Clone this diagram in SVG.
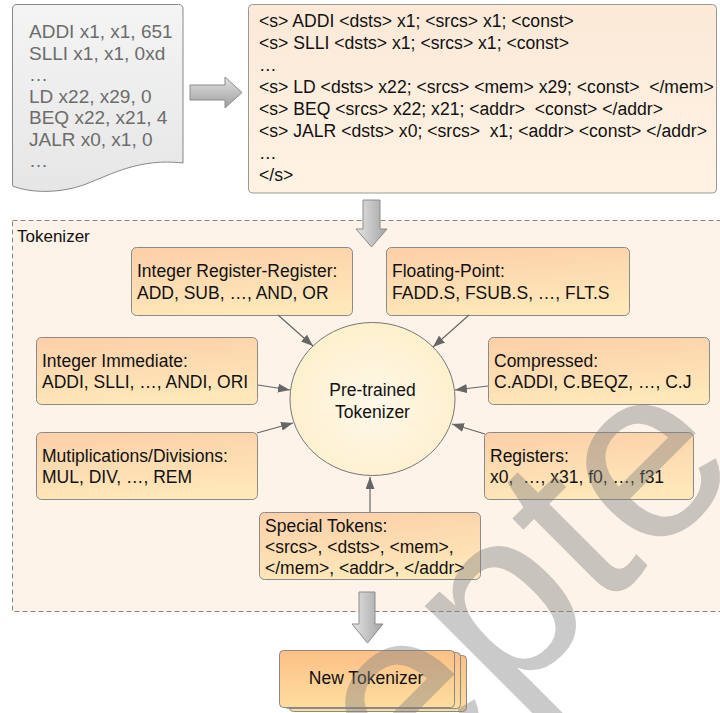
<svg xmlns="http://www.w3.org/2000/svg" width="720" height="713" viewBox="0 0 720 713">
<defs>
<linearGradient id="gNode" x1="0" y1="0" x2="0.25" y2="1">
<stop offset="0" stop-color="#fccfa8"/>
<stop offset="1" stop-color="#fee7b9"/>
</linearGradient>
<linearGradient id="gNew" x1="0" y1="0" x2="0" y2="1">
<stop offset="0" stop-color="#fdc086"/>
<stop offset="1" stop-color="#fedd9f"/>
</linearGradient>
<linearGradient id="gTok" x1="0" y1="0" x2="0" y2="1">
<stop offset="0" stop-color="#fce9d8"/>
<stop offset="1" stop-color="#fef3e3"/>
</linearGradient>
<linearGradient id="gDoc" x1="0" y1="0" x2="0" y2="1">
<stop offset="0" stop-color="#f4f4f4"/>
<stop offset="1" stop-color="#e6e6e6"/>
</linearGradient>
<linearGradient id="gArrH" x1="0" y1="0" x2="0" y2="1">
<stop offset="0" stop-color="#e2e2e2"/>
<stop offset="1" stop-color="#9e9e9e"/>
</linearGradient>
<linearGradient id="gArrV" x1="0" y1="0" x2="1" y2="0">
<stop offset="0" stop-color="#e4e4e4"/>
<stop offset="1" stop-color="#a4a4a4"/>
</linearGradient>
<radialGradient id="gCirc" cx="0.5" cy="0.55" r="0.6">
<stop offset="0" stop-color="#fff8ea"/>
<stop offset="1" stop-color="#fdefc9"/>
</radialGradient>
<marker id="ah" markerUnits="userSpaceOnUse" markerWidth="12" markerHeight="9" refX="12" refY="4.5" orient="auto">
<path d="M0,0 L12,4.5 L0,9 z" fill="#666"/>
</marker>
<style>
text{white-space:pre}
.t{font-family:"Liberation Sans",Arial,Helvetica,sans-serif;font-size:17.5px;fill:#111}
.tk{font-family:"Liberation Sans",Arial,Helvetica,sans-serif;font-size:17px;fill:#111}
.seq{font-family:"Liberation Sans",Arial,Helvetica,sans-serif;font-size:17.6px;fill:#111}
.doc{font-family:"Liberation Sans",Arial,Helvetica,sans-serif;font-size:19px;fill:#6c6c6c}
.box{fill:url(#gNode);stroke:#8a8a8a;stroke-width:1}
.conn{stroke:#666;stroke-width:1.2;fill:none;marker-end:url(#ah)}
.garrow{stroke:#8c8c8c;stroke-width:1}
</style>
</defs>

<rect id="tokenizer-region" x="12.5" y="220.5" width="720" height="391" fill="#fdf3e8" stroke="#888" stroke-width="1" stroke-dasharray="5,3"/>
<text class="tk" x="17" y="242">Tokenizer</text>

<g id="assembly-doc">
<path d="M12.5,9 Q12.5,4.5 17,4.5 H178.5 Q183,4.5 183,9 V163 C140,158 112,174 86,184 C60,194 30,193 12.5,186 Z" fill="url(#gDoc)" stroke="#888" stroke-width="1"/>
<text class="doc" x="29" y="38">ADDI x1, x1, 651</text>
<text class="doc" x="29" y="59.5">SLLI x1, x1, 0xd</text>
<text class="doc" x="29" y="81">…</text>
<text class="doc" x="29" y="102.5">LD x22, x29, 0</text>
<text class="doc" x="29" y="124">BEQ x22, x21, 4</text>
<text class="doc" x="29" y="145.5">JALR x0, x1, 0</text>
<text class="doc" x="29" y="167">…</text>
</g>

<g id="token-seq">
<rect x="248.5" y="4.5" width="468" height="188.5" rx="4" fill="url(#gTok)" stroke="#999" stroke-width="1"/>
<text class="seq" x="259" y="26.5">&lt;s&gt; ADDI &lt;dsts&gt; x1; &lt;srcs&gt; x1; &lt;const&gt;</text>
<text class="seq" x="259" y="48.6">&lt;s&gt; SLLI &lt;dsts&gt; x1; &lt;srcs&gt; x1; &lt;const&gt;</text>
<text class="seq" x="259" y="70.7">…</text>
<text class="seq" x="259" y="92.8">&lt;s&gt; LD &lt;dsts&gt; x22; &lt;srcs&gt; &lt;mem&gt; x29; &lt;const&gt;  &lt;/mem&gt;</text>
<text class="seq" x="259" y="114.9">&lt;s&gt; BEQ &lt;srcs&gt; x22; x21; &lt;addr&gt;  &lt;const&gt; &lt;/addr&gt;</text>
<text class="seq" x="259" y="137">&lt;s&gt; JALR &lt;dsts&gt; x0; &lt;srcs&gt;  x1; &lt;addr&gt; &lt;const&gt; &lt;/addr&gt;</text>
<text class="seq" x="259" y="159">…</text>
<text class="seq" x="259" y="181.2">&lt;/s&gt;</text>
</g>

<g id="block-arrows">
<polygon class="garrow" points="190,85 225,85 225,77 242,92.5 225,108 225,100 190,100" fill="url(#gArrH)"/>
<polygon class="garrow" points="363,200 380,200 380,229 387,229 371.5,247 356,229 363,229" fill="url(#gArrV)"/>
<polygon class="garrow" points="359,592 375,592 375,624 383,624 367.5,643 352,624 359,624" fill="url(#gArrV)"/>
</g>

<g id="pretrained">
<ellipse cx="372.5" cy="399" rx="82.5" ry="76.5" fill="url(#gCirc)" stroke="#777" stroke-width="1"/>
<text class="t" x="372.5" y="396" text-anchor="middle">Pre-trained</text>
<text class="t" x="372.5" y="418" text-anchor="middle">Tokenizer</text>
</g>

<g id="int-reg-reg">
<rect class="box" x="131.5" y="247.5" width="221" height="68" rx="5"/>
<text class="t" x="137" y="277">Integer Register-Register:</text>
<text class="t" x="137" y="299">ADD, SUB, …, AND, OR</text>
</g>

<g id="floating-point">
<rect class="box" x="386.5" y="247.5" width="243" height="68" rx="5"/>
<text class="t" x="392" y="277">Floating-Point:</text>
<text class="t" x="392" y="299">FADD.S, FSUB.S, …, FLT.S</text>
</g>

<g id="int-immediate">
<rect class="box" x="36.5" y="337.5" width="221" height="67" rx="5"/>
<text class="t" x="42" y="367">Integer Immediate:</text>
<text class="t" x="42" y="388">ADDI, SLLI, …, ANDI, ORI</text>
</g>

<g id="compressed">
<rect class="box" x="488.5" y="337.5" width="221" height="67" rx="5"/>
<text class="t" x="494" y="367">Compressed:</text>
<text class="t" x="494" y="388">C.ADDI, C.BEQZ, …, C.J</text>
</g>

<g id="mul-div">
<rect class="box" x="36.5" y="432.5" width="221" height="67" rx="5"/>
<text class="t" x="42" y="462">Mutiplications/Divisions:</text>
<text class="t" x="42" y="483">MUL, DIV, …, REM</text>
</g>

<g id="registers">
<rect class="box" x="484.5" y="432.5" width="209" height="67" rx="5"/>
<text class="t" x="490" y="462">Registers:</text>
<text class="t" x="490" y="483">x0,  …, x31, f0, …, f31</text>
</g>

<g id="special-tokens">
<rect class="box" x="259.5" y="512.5" width="221" height="67" rx="5"/>
<text class="t" x="265" y="532">Special Tokens:</text>
<text class="t" x="265" y="553">&lt;srcs&gt;, &lt;dsts&gt;, &lt;mem&gt;,</text>
<text class="t" x="265" y="574">&lt;/mem&gt;, &lt;addr&gt;, &lt;/addr&gt;</text>
</g>

<g id="new-tokenizer">
<rect x="289.5" y="655.5" width="177" height="56" rx="4" fill="url(#gNew)" stroke="#888" stroke-width="1"/>
<rect x="284.5" y="652.5" width="176" height="56" rx="4" fill="url(#gNew)" stroke="#888" stroke-width="1"/>
<rect x="279.5" y="650.5" width="175" height="57" rx="4" fill="url(#gNew)" stroke="#888" stroke-width="1"/>
<text class="t" x="366" y="684" text-anchor="middle">New Tokenizer</text>
</g>

<g id="connectors">
<line class="conn" x1="278" y1="315" x2="313" y2="346"/>
<line class="conn" x1="469" y1="315" x2="433" y2="347"/>
<line class="conn" x1="258" y1="385" x2="290" y2="390"/>
<line class="conn" x1="488" y1="386" x2="455" y2="390"/>
<line class="conn" x1="257" y1="433" x2="293" y2="423"/>
<line class="conn" x1="485" y1="434" x2="452" y2="424"/>
<line class="conn" x1="370" y1="512" x2="370" y2="477"/>
</g>

<text x="322" y="892" transform="rotate(-45 322 892)" font-family="Liberation Sans, Arial, sans-serif" font-size="245" fill="#808080" fill-opacity="0.42">cepte</text>
</svg>
